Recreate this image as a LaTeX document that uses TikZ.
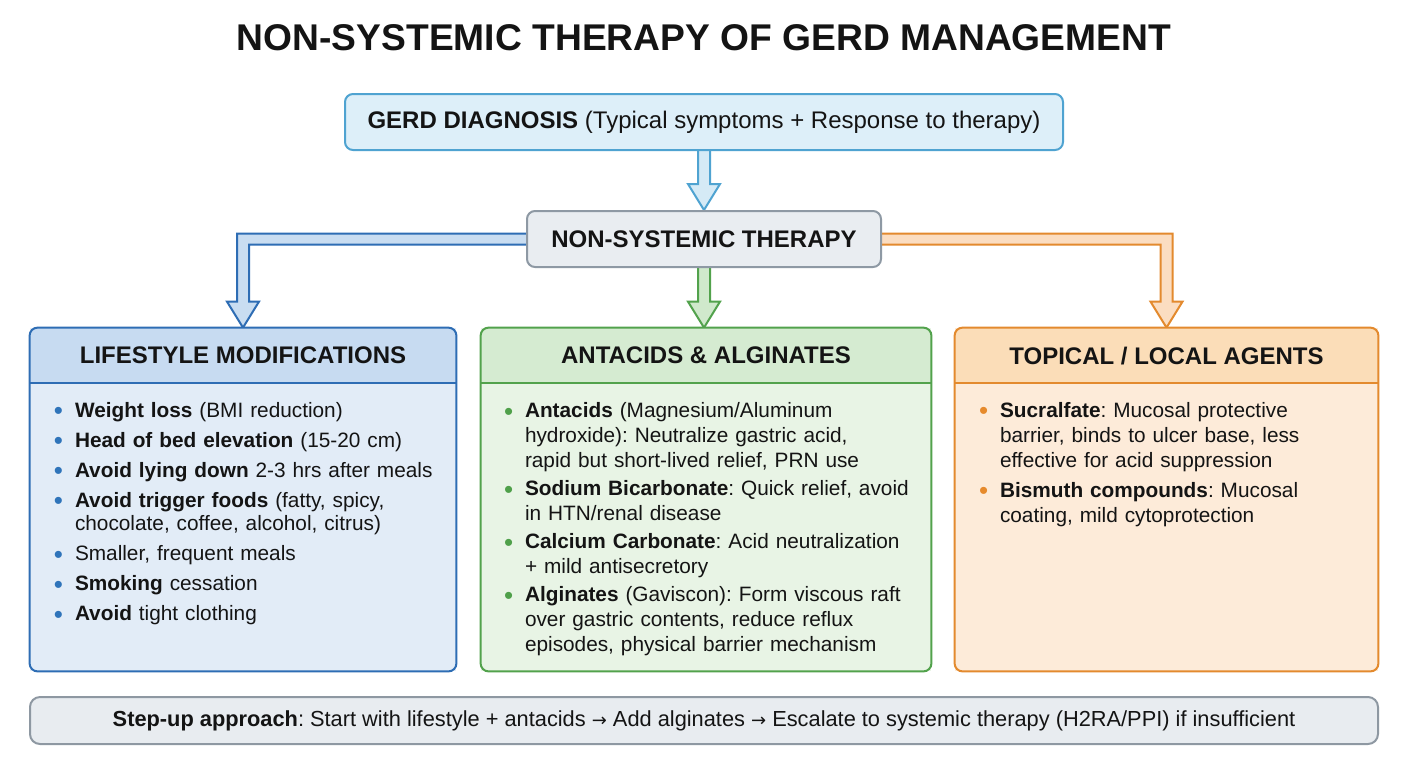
\documentclass[tikz,border=0pt]{standalone}
\usepackage{fontspec}
\setmainfont{Liberation Sans}
\newfontfamily\arrowfont{DejaVu Sans}
\usetikzlibrary{calc,backgrounds}
\definecolor{ink}{HTML}{141414}
\definecolor{gerdfill}{HTML}{DDEFF9}
\definecolor{gerddraw}{HTML}{4FA3D1}
\definecolor{gerdarrow}{HTML}{D5EAF6}
\definecolor{nstfill}{HTML}{E9EDF1}
\definecolor{nstdraw}{HTML}{8E99A4}
\definecolor{lifedraw}{HTML}{2E6DB4}
\definecolor{lifehd}{HTML}{C7DBF1}
\definecolor{lifebody}{HTML}{E2ECF7}
\definecolor{lifearrow}{HTML}{C9DDF1}
\definecolor{lifebul}{HTML}{2F74BA}
\definecolor{antadraw}{HTML}{52A24C}
\definecolor{antahd}{HTML}{D5EBD1}
\definecolor{antabody}{HTML}{E8F4E5}
\definecolor{antaarrow}{HTML}{D0E9CC}
\definecolor{antabul}{HTML}{4FA04A}
\definecolor{topidraw}{HTML}{E38A2E}
\definecolor{topihd}{HTML}{FBDDB8}
\definecolor{topibody}{HTML}{FDEBD9}
\definecolor{topiarrow}{HTML}{FBDDC1}
\definecolor{topibul}{HTML}{E68A2C}
\definecolor{stepfill}{HTML}{E8ECF0}
\definecolor{stepdraw}{HTML}{8E98A2}
\frenchspacing
\newcommand\bitem[2]{\par\noindent\hangindent=10.5pt\hangafter=1\makebox[10.5pt][l]{\textcolor{#1}{\raisebox{-1.4pt}{\fontsize{13}{10}\selectfont •}}}#2}
\newcommand\arr{{\arrowfont\fontsize{9}{10}\selectfont →}}
\begin{document}
\begin{tikzpicture}[x=0.5pt,y=-0.5pt,
  every node/.style={text=ink},
  topbox/.style={rectangle, rounded corners=4pt, line width=1pt, inner sep=0pt, font=\fontsize{12}{14}\selectfont},
  panel/.style={rectangle, inner sep=0pt, minimum height=171.5pt},
  hdtext/.style={font=\bfseries\fontsize{12}{14}\selectfont, inner sep=0pt},
  bodytext/.style={anchor=north west, inner sep=0pt, text width=205pt},
  blockarrow/.style={line width=1pt, line join=miter},
]
\useasboundingbox (0,0) rectangle (1408,768);

\node[font=\bfseries\fontsize{18.6}{22}\selectfont, inner sep=0pt] (title) at (704,38) {NON-SYSTEMIC THERAPY OF GERD MANAGEMENT};

\node[topbox, fill=gerdfill, draw=gerddraw, minimum width=359pt, minimum height=28pt] (gerd) at (704,122)
  {\raisebox{-1pt}{\textbf{GERD DIAGNOSIS} (Typical symptoms + Response to therapy)}};
\node[topbox, fill=nstfill, draw=nstdraw, minimum width=177pt, minimum height=28pt] (nst) at (704,239)
  {\textbf{NON-SYSTEMIC THERAPY}};

% panels
\node[panel, fill=lifebody, minimum width=213pt] (life) at (243,499.5) {};
\node[panel, fill=antabody, minimum width=225pt] (anta) at (706,499.5) {};
\node[panel, fill=topibody, minimum width=211.5pt] (topi) at (1166.5,499.5) {};

\foreach \p/\hc/\dc in {life/lifehd/lifedraw, anta/antahd/antadraw, topi/topihd/topidraw}{
  \begin{scope}
    \clip[rounded corners=4pt] (\p.north west) rectangle (\p.south east);
    \fill[\p body] (\p.north west) rectangle (\p.south east);
    \fill[\hc] (\p.north west) rectangle ([yshift=-27.5pt]\p.north east);
  \end{scope}
  \draw[\dc, line width=1pt] ([yshift=-27.5pt]\p.north west) -- ([yshift=-27.5pt]\p.north east);
  \draw[\dc, line width=1pt, rounded corners=4pt] (\p.north west) rectangle (\p.south east);
}

\node[hdtext] (lifeh) at ([yshift=-14pt]life.north) {LIFESTYLE MODIFICATIONS};
\node[hdtext] (antah) at ([yshift=-14pt]anta.north) {ANTACIDS \& ALGINATES};
\node[hdtext] (topih) at ([yshift=-14pt]topi.north) {TOPICAL / LOCAL AGENTS};

\node[bodytext, font=\fontsize{10.4}{11.8}\selectfont\setlength{\parskip}{3.2pt}\raggedright] (lifeb) at ([xshift=12pt,yshift=-29.5pt]life.north west) {%
\bitem{lifebul}{\textbf{Weight loss} (BMI reduction)}
\bitem{lifebul}{\textbf{Head of bed elevation} (15-20 cm)}
\bitem{lifebul}{\textbf{Avoid lying down} 2-3 hrs after meals}
\bitem{lifebul}{\textbf{Avoid trigger foods} (fatty, spicy,\newline chocolate, coffee, alcohol, citrus)}
\bitem{lifebul}{Smaller, frequent meals}
\bitem{lifebul}{\textbf{Smoking} cessation}
\bitem{lifebul}{\textbf{Avoid} tight clothing}\par};

\node[bodytext, font=\fontsize{10.4}{12.5}\selectfont\setlength{\parskip}{1.6pt}\raggedright] (antab) at ([xshift=11.5pt,yshift=-30.5pt]anta.north west) {%
\bitem{antabul}{\textbf{Antacids} (Magnesium/Aluminum\newline hydroxide): Neutralize gastric acid,\newline rapid but short-lived relief, PRN use}
\bitem{antabul}{\textbf{Sodium Bicarbonate}: Quick relief, avoid\newline in HTN/renal disease}
\bitem{antabul}{\textbf{Calcium Carbonate}: Acid neutralization\newline + mild antisecretory}
\bitem{antabul}{\textbf{Alginates} (Gaviscon): Form viscous raft\newline over gastric contents, reduce reflux\newline episodes, physical barrier mechanism}\par};

\node[bodytext, font=\fontsize{10.4}{12.5}\selectfont\setlength{\parskip}{2.5pt}\raggedright] (topib) at ([xshift=12pt,yshift=-29.5pt]topi.north west) {%
\bitem{topibul}{\textbf{Sucralfate}: Mucosal protective\newline barrier, binds to ulcer base, less\newline effective for acid suppression}
\bitem{topibul}{\textbf{Bismuth compounds}: Mucosal\newline coating, mild cytoprotection}\par};

\node[topbox, rounded corners=5pt, fill=stepfill, draw=stepdraw, minimum width=674pt, minimum height=23.5pt, font=\fontsize{10.9}{12}\selectfont] (step) at (704,720.5)
  {\textbf{Step-up approach}: Start with lifestyle + antacids \arr{} Add alginates \arr{} Escalate to systemic therapy (H2RA/PPI) if insufficient};

\begin{scope}[on background layer]
  \fill[white] (0,0) rectangle (1408,768);
  % GERD -> NST
  \path[blockarrow, fill=gerdarrow, draw=gerddraw] let \p1=(gerd.south), \p2=(nst.north) in
    (\x1-3pt,\y1+2pt) -- (\x1-3pt,\y2+13pt) -- (\x1-8pt,\y2+13pt) -- (\x1,\y2) -- (\x1+8pt,\y2+13pt) -- (\x1+3pt,\y2+13pt) -- (\x1+3pt,\y1+2pt) -- cycle;
  % NST -> antacids
  \path[blockarrow, fill=antaarrow, draw=antadraw] let \p1=(nst.south), \p2=(anta.north) in
    (\x1-3pt,\y1+2pt) -- (\x1-3pt,\y2+13pt) -- (\x1-8pt,\y2+13pt) -- (\x1,\y2) -- (\x1+8pt,\y2+13pt) -- (\x1+3pt,\y2+13pt) -- (\x1+3pt,\y1+2pt) -- cycle;
  % NST -> lifestyle
  \path[blockarrow, fill=lifearrow, draw=lifedraw] let \p1=(nst.west), \p2=(life.north) in
    (\x1+2pt,\y1+2.75pt) -- (\x2-3pt,\y1+2.75pt) -- (\x2-3pt,\y2+13pt) -- (\x2-8pt,\y2+13pt) -- (\x2,\y2) -- (\x2+8pt,\y2+13pt) -- (\x2+3pt,\y2+13pt) -- (\x2+3pt,\y1-2.75pt) -- (\x1+2pt,\y1-2.75pt) -- cycle;
  % NST -> topical
  \path[blockarrow, fill=topiarrow, draw=topidraw] let \p1=(nst.east), \p2=(topi.north) in
    (\x1-2pt,\y1+2.75pt) -- (\x2+3pt,\y1+2.75pt) -- (\x2+3pt,\y2+13pt) -- (\x2+8pt,\y2+13pt) -- (\x2,\y2) -- (\x2-8pt,\y2+13pt) -- (\x2-3pt,\y2+13pt) -- (\x2-3pt,\y1-2.75pt) -- (\x1-2pt,\y1-2.75pt) -- cycle;
\end{scope}
\end{tikzpicture}
\end{document}
